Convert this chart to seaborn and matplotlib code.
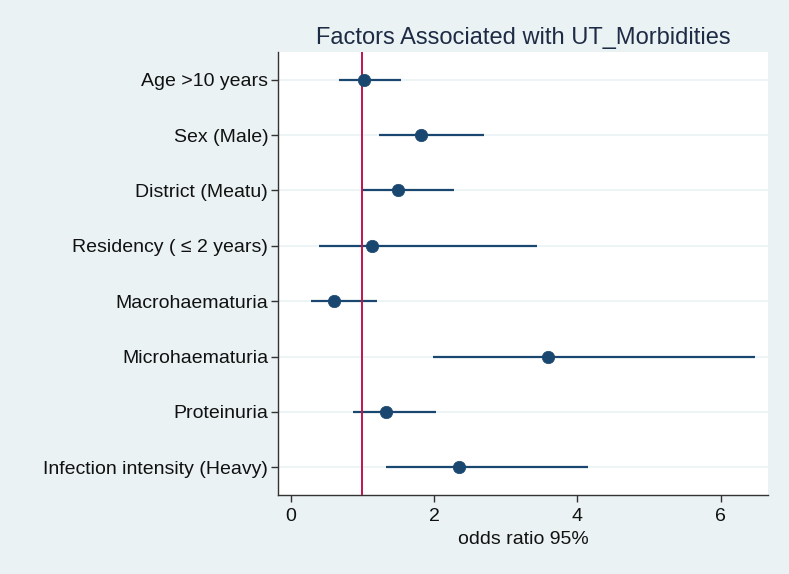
import pandas as pd
import numpy as np
import matplotlib.pyplot as plt
import seaborn as sns

# odds ratios with 95% CI
factors = ['Age >10 years', 'Sex (Male)', 'District (Meatu)',
           'Residency ( \u2264 2 years)', 'Macrohaematuria', 'Microhaematuria',
           'Proteinuria', 'Infection intensity (Heavy)']
odds_ratio = [1.03, 1.82, 1.50, 1.14, 0.60, 3.59, 1.33, 2.35]
ci_low = [0.68, 1.23, 1.00, 0.39, 0.28, 1.99, 0.87, 1.33]
ci_high = [1.54, 2.70, 2.28, 3.44, 1.20, 6.48, 2.03, 4.15]
x_ticks = [0, 2, 4, 6]

df = pd.DataFrame({'factor': factors, 'OR': odds_ratio,
                   'low': ci_low, 'high': ci_high})
df['pos'] = np.arange(len(df))

sns.set_style('white')
plt.rcParams['font.family'] = ['Liberation Sans', 'DejaVu Sans']

bg = '#EAF2F3'
navy = '#1A476F'

fig = plt.figure(figsize=(7.89, 5.74), dpi=100, facecolor=bg)
ax = fig.add_axes([0.3523, 0.1376, 0.6211, 0.7718])
ax.set_facecolor('white')

# light horizontal grid at each factor
for p in df['pos']:
    ax.axhline(p, color=bg, lw=1.2, zorder=0)

ax.hlines(df['pos'], df['low'], df['high'], color=navy, lw=1.6, zorder=2)
ax.axvline(1, color='#C0144C', lw=1.4, zorder=3)
sns.scatterplot(data=df, x='OR', y='pos', ax=ax, color=navy, s=80,
                edgecolor=navy, linewidth=0.5, zorder=4)

ax.set_xlim(-0.177, 6.66)
ax.set_ylim(len(df) - 0.5, -0.5)
ax.set_yticks(df['pos'])
ax.set_yticklabels(df['factor'])
ax.set_xticks(x_ticks)

ax.tick_params(axis='both', labelsize=14, length=5, width=1,
               color='#333333', labelcolor='#111111', direction='out',
               left=True, bottom=True)
ax.tick_params(axis='y', pad=2)
ax.tick_params(axis='x', pad=4)

for side in ['top', 'right']:
    ax.spines[side].set_visible(False)
for side in ['left', 'bottom']:
    ax.spines[side].set_color('#333333')
    ax.spines[side].set_linewidth(1)

ax.set_ylabel('')
ax.set_xlabel('odds ratio 95%', fontsize=14, labelpad=5, color='#111111')
ax.set_title('Factors Associated with UT_Morbidities', fontsize=17,
             color='#1E2B45', pad=6)

fig.savefig('out.png', dpi=100, facecolor=bg)
